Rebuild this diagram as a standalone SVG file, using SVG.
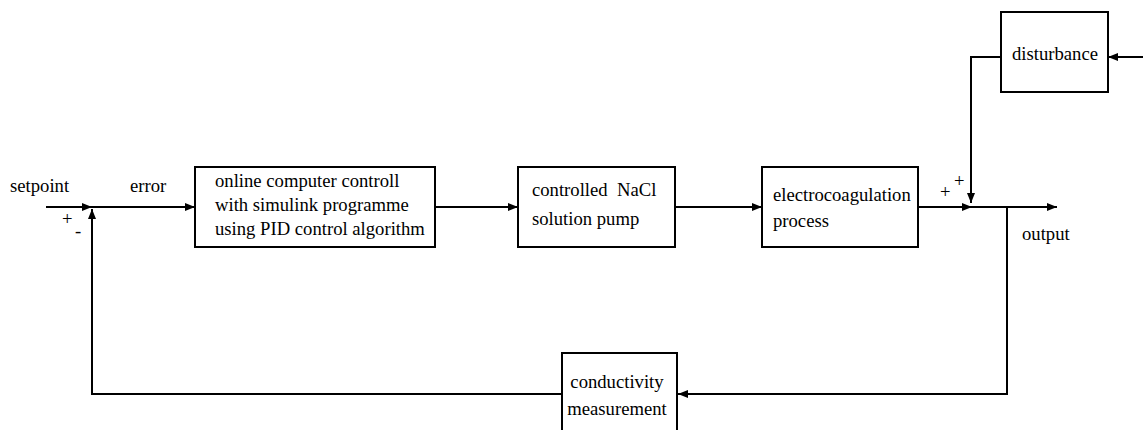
<svg xmlns="http://www.w3.org/2000/svg" width="1143" height="430" viewBox="0 0 1143 430">
<style>
.box{fill:#fff;stroke:#000;stroke-width:2}
.ln{fill:none;stroke:#000;stroke-width:2}
text{font-family:"Liberation Serif","Times New Roman",serif;font-size:18.67px;fill:#000}
</style>
<defs>
<marker id="ah" markerWidth="10" markerHeight="8" refX="10" refY="4" orient="auto" markerUnits="userSpaceOnUse">
<path d="M0,0 L10,4 L0,8 Z" fill="#000"/>
</marker>
</defs>
<rect width="1143" height="430" fill="#fff"/>
<g id="connectors">
<line class="ln" x1="46" y1="207" x2="92" y2="207" marker-end="url(#ah)"/>
<line class="ln" x1="92" y1="207" x2="195" y2="207" marker-end="url(#ah)"/>
<line class="ln" x1="435" y1="207" x2="518" y2="207" marker-end="url(#ah)"/>
<line class="ln" x1="676" y1="207" x2="762" y2="207" marker-end="url(#ah)"/>
<line class="ln" x1="918" y1="207" x2="972" y2="207" marker-end="url(#ah)"/>
<line class="ln" x1="972" y1="207" x2="1057" y2="207" marker-end="url(#ah)"/>
<polyline class="ln" points="1007,207 1007,394 678,394" marker-end="url(#ah)"/>
<polyline class="ln" points="562,394 92,394 92,209" marker-end="url(#ah)"/>
<line class="ln" x1="1143" y1="57" x2="1108" y2="57" marker-end="url(#ah)"/>
<polyline class="ln" points="1001,57 971,57 971,203" marker-end="url(#ah)"/>
</g>
<g id="controller">
<rect class="box" x="195" y="167" width="240" height="80"/>
<text x="215" y="187">online computer controll</text>
<text x="215" y="211">with simulink programme</text>
<text x="215" y="235">using PID control algorithm</text>
</g>
<g id="pump">
<rect class="box" x="518" y="167" width="157" height="80"/>
<text x="532" y="196" xml:space="preserve">controlled  NaCl</text>
<text x="532" y="225">solution pump</text>
</g>
<g id="process">
<rect class="box" x="762" y="167" width="156" height="80"/>
<text x="773" y="201">electrocoagulation</text>
<text x="773" y="227">process</text>
</g>
<g id="disturbance">
<rect class="box" x="1001" y="12" width="107" height="80"/>
<text x="1055" y="60" text-anchor="middle">disturbance</text>
</g>
<g id="measurement">
<rect class="box" x="562" y="353" width="115" height="90"/>
<text x="617" y="388" text-anchor="middle">conductivity</text>
<text x="617" y="415" text-anchor="middle">measurement</text>
</g>
<g id="labels">
<text x="10" y="192">setpoint</text>
<text x="130" y="192">error</text>
<text x="62" y="225">+</text>
<text x="75" y="237">-</text>
<text x="940" y="198">+</text>
<text x="954" y="187">+</text>
<text x="1022" y="240">output</text>
</g>
</svg>
